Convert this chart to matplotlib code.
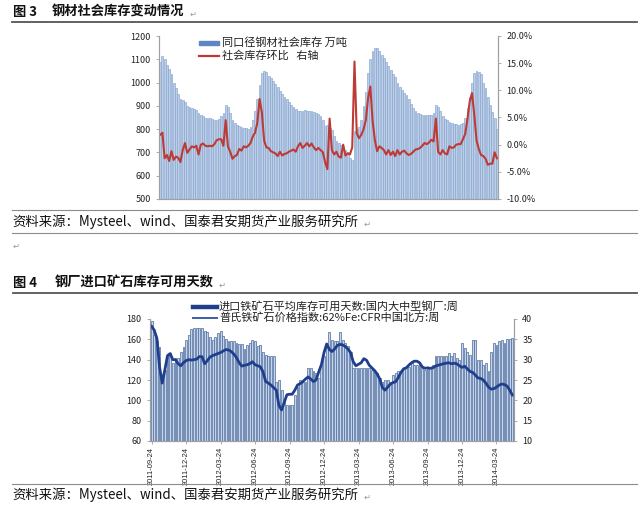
import matplotlib
matplotlib.use('Agg')
import matplotlib.pyplot as plt
from matplotlib.lines import Line2D
from matplotlib.patches import Rectangle
import numpy as np

plt.rcParams['font.family'] = ['Noto Sans CJK SC', 'DejaVu Sans']
plt.rcParams['axes.unicode_minus'] = False

# ---- chart 1 data: weekly steel social stock (万吨) and w/w change (%) ----
stock1 = [1090, 1114, 1100, 1075, 1060, 1035, 1000, 975, 950, 930,
          925, 915, 900, 895, 890, 888, 882, 870, 860, 855,
          850, 848, 846, 844, 840, 838, 845, 858, 870, 904,
          897, 870, 840, 826, 818, 812, 808, 805, 803, 802,
          810, 840, 880, 930, 990, 1040, 1050, 1046, 1030, 1018,
          1005, 995, 980, 965, 950, 940, 928, 918, 905, 895,
          885, 880, 876, 878, 882, 878, 876, 878, 874, 870,
          866, 855, 838, 812, 818, 805, 796, 770, 750, 740,
          733, 725, 712, 700, 678, 666, 790, 800, 808, 840,
          900, 960, 1040, 1100, 1137, 1148, 1150, 1135, 1120, 1106,
          1090, 1072, 1055, 1038, 1022, 1000, 980, 968, 955, 945,
          928, 908, 892, 878, 870, 865, 861, 860, 860, 861,
          862, 868, 904, 895, 880, 855, 845, 838, 832, 826,
          822, 820, 818, 820, 826, 850, 890, 940, 1000, 1042,
          1050, 1045, 1035, 1000, 975, 940, 905, 875, 848, 800]
mom1 = [1.8, 2.2, -2.5, -1.9, -3.0, -1.2, -2.8, -2.2, -2.4, -3.2,
        -1.0, 0.3, -1.5, -0.9, -0.3, -0.5, -0.2, -1.8, 0.0, 0.2,
        -0.2, -0.3, -0.2, -0.3, 0.1, 0.8, 1.0, 1.0, -0.2, 4.5,
        -0.3, -1.3, -2.6, -2.1, -1.9, -0.8, -1.1, -0.3, -0.5, -0.2,
        0.3, 1.5, 2.2, 4.0, 8.4, 6.0, 0.8, -0.5, -0.6, -1.2,
        -1.4, -1.6, -2.1, -1.3, -2.0, -1.7, -1.6, -1.3, -1.1, -0.9,
        -1.3, -0.3, 0.3, -0.6, -0.2, 0.3, -0.3, 0.2, -0.5, -1.0,
        -0.6, -1.0, -1.4, -3.2, -4.5, 4.8, -1.0, -1.8, -1.3, -2.2,
        -2.4, 0.0, -2.0, -1.6, -1.8, -0.5, 15.3, 2.1, 1.2, 1.8,
        2.8, 4.5, 8.5, 10.7, 4.4, 0.9, -1.2, -0.3, -0.6, -1.0,
        -1.8, -1.0, -1.9, -1.3, -2.1, -1.0, -1.8, -1.3, -1.1, -1.6,
        -1.9, -1.7, -1.3, -0.9, -0.8, -0.6, -0.2, 0.3, 0.1, 0.4,
        0.9, 0.6, 4.8, -1.3, -1.8, -1.0, -1.6, -1.8, -0.3, -0.6,
        -0.5, 0.0, 0.1, 0.1, 1.0, 2.0, 4.8, 8.0, 9.5, 5.5,
        0.8, -0.8, -1.9, -2.1, -2.6, -3.7, -3.5, -3.5, -1.4, -2.5]

# ---- chart 2 data: weekly iron ore price index and stock days ----
price2 = [173, 169, 161, 133, 117, 130, 144, 146, 140, 140,
          136, 134, 137, 139, 140, 139.6, 140, 140.5, 143, 143,
          136, 139, 142.5, 144, 145, 146, 147, 148.5, 150, 149.5,
          148, 145.5, 142, 137, 133.7, 134.5, 135, 136, 138, 135,
          134, 133, 128, 118.5, 117, 115, 112.5, 110, 95, 90.5,
          98, 105.5, 106, 106, 110, 115, 116.5, 118.3, 121, 123,
          121, 118.5, 120, 128, 135, 147, 155.5, 150, 148, 150.5,
          154, 155, 154.5, 153, 150.5, 147, 138, 134, 135.5, 137,
          141, 139.5, 134.7, 132, 129.5, 126, 121, 112.5, 110, 113,
          116, 117.5, 118.3, 122.5, 127.5, 131, 132, 134.7, 137, 138.5,
          138.5, 137, 133, 131.5, 132, 131.5, 132, 133.7, 134.5, 135.3,
          136, 136.5, 137, 136, 136.5, 136, 134, 132.4, 133.5, 131,
          128.5, 127.5, 125, 122, 121.6, 120, 117, 113, 111, 111.5,
          113, 115, 116, 115.5, 114, 110, 105]
days2 = [39.5, 36, 34.6, 33, 26, 27.5, 31.2, 31.7, 29.2, 30.4,
         30.4, 32, 33, 34.9, 36.1, 37.5, 37.8, 37.8, 37.8, 37.8,
         37.1, 36.9, 35.6, 34.9, 35.5, 36.6, 37, 35.8, 35, 34.7,
         34.7, 34.7, 34.1, 33.9, 33.9, 32.6, 33.6, 34.1, 34.9, 34.6,
         33.3, 33.6, 32, 31.2, 31, 31, 31, 24.6, 25, 22.6,
         20.1, 18.9, 18.9, 18.9, 21.2, 23.3, 25, 24.6, 24.6, 27.9,
         27.9, 27.1, 26.8, 25.5, 28.7, 31, 33.7, 36.9, 34.9, 34.7,
         34.7, 36.9, 34.9, 34.1, 33.3, 31.8, 27.9, 27.9, 27.9, 27.9,
         27.9, 27.9, 27.9, 27.5, 27.1, 26.7, 25.5, 24.6, 25, 25,
         24.6, 26.2, 26.7, 27.1, 27.1, 27.9, 27.9, 28.3, 29.2, 28.8,
         28.8, 28.8, 27.9, 27.5, 27.9, 27.9, 28.8, 30.8, 30.8, 31,
         30.8, 30.8, 31.6, 30.8, 31.6, 30.4, 30, 34.1, 32.9, 32,
         31.2, 34.9, 34.9, 30, 30, 28.8, 29.2, 27.1, 32, 34.1,
         33.7, 34.6, 34.9, 34.1, 35.1, 35.1, 35.3]
date_labels = ['2011-09-24', '2011-12-24', '2012-03-24', '2012-06-24',
               '2012-09-24', '2012-12-24', '2013-03-24', '2013-06-24',
               '2013-09-24', '2013-12-24', '2014-03-24']

W, H = 640, 507
fx = lambda x: x / W
fy = lambda y: 1 - y / H

fig = plt.figure(figsize=(6.4, 5.07), dpi=100)
axis_grey = '#a0a0a0'
txt = '#222222'


def hline(y, x0=12, x1=637, color='#8c8c8c', lw=0.8):
    fig.add_artist(Line2D([fx(x0), fx(x1)], [fy(y), fy(y)], color=color, lw=lw,
                          transform=fig.transFigure))


def style(ax):
    ax.spines['top'].set_visible(False)
    for s in ['left', 'right', 'bottom']:
        ax.spines[s].set_color(axis_grey)
        ax.spines[s].set_linewidth(0.8)
    ax.tick_params(axis='y', labelsize=6.5, colors=axis_grey, labelcolor=txt,
                   length=2.5, width=0.6)


# titles and rules
fig.text(fx(13), fy(12), '图 3', fontsize=9.5, fontweight='bold', va='center', color='#111')
fig.text(fx(52), fy(12), '钢材社会库存变动情况', fontsize=9.5, fontweight='bold',
         va='center', color='#111')
fig.text(fx(190), fy(14), '↵', fontsize=6, va='center', color='#999')
hline(22, color='#555555', lw=1.3)

fig.text(fx(13), fy(283), '图 4', fontsize=9.5, fontweight='bold', va='center', color='#111')
fig.text(fx(55), fy(283), '钢厂进口矿石库存可用天数', fontsize=9.5, fontweight='bold',
         va='center', color='#111')
fig.text(fx(219), fy(285), '↵', fontsize=6, va='center', color='#999')
hline(293, x0=13, color='#555555', lw=1.3)

src = '资料来源：Mysteel、wind、国泰君安期货产业服务研究所'
hline(210)
fig.text(fx(12), fy(222), src, fontsize=9.6, va='center', color='#111')
fig.text(fx(364), fy(224), '↵', fontsize=6, va='center', color='#999')
hline(233)
fig.text(fx(13), fy(246), '↵', fontsize=6, va='center', color='#999')

hline(484)
fig.text(fx(12), fy(495), src, fontsize=9.6, va='center', color='#111')
fig.text(fx(364), fy(497), '↵', fontsize=6, va='center', color='#999')

# ---- chart 1 ----
ax1 = fig.add_axes([fx(159), fy(199), (498 - 159) / W, (199 - 36) / H])
x1 = np.arange(len(stock1))
ax1.bar(x1, stock1, width=0.8, color='#bccfe7', edgecolor='#86a4cf', linewidth=0.45)
ax1.set_xlim(-0.5, len(stock1) - 0.5)
ax1.set_ylim(500, 1200)
ax1.set_yticks(range(500, 1201, 100))
ax1.set_xticks([])
style(ax1)
ax1r = ax1.twinx()
ax1r.plot(x1, mom1, color='#be3a36', lw=1.5)
ax1r.set_ylim(-10, 20)
ax1r.set_yticks(range(-10, 21, 5))
ax1r.set_yticklabels(['%.1f%%' % v for v in range(-10, 21, 5)])
style(ax1r)

# legend chart 1
fig.add_artist(Rectangle((fx(199), fy(45)), fx(20), 4 / H, color='#5f86c0',
                         transform=fig.transFigure))
fig.text(fx(222), fy(43), '同口径钢材社会库存 万吨', fontsize=8, va='center', color=txt)
fig.add_artist(Line2D([fx(199), fx(219)], [fy(56), fy(56)], color='#be3a36', lw=1.6,
                      transform=fig.transFigure))
fig.text(fx(222), fy(56), '社会库存环比   右轴', fontsize=8, va='center', color=txt)

# ---- chart 2 ----
ax2 = fig.add_axes([fx(150), fy(441), (514 - 150) / W, (441 - 319) / H])
x2 = np.arange(len(days2))
ax2.bar(x2, days2, width=0.7, color='#c3d4eb', edgecolor='#4d6a9b', linewidth=0.5)
ax2.set_xlim(-0.6, len(days2) - 0.4)
ax2.set_ylim(10, 40)
ax2.set_yticks(range(10, 41, 5))
style(ax2)
ax2.set_xticks(range(0, 131, 13))
ax2.set_xticklabels(date_labels, rotation=90, fontsize=5.4,
                    family=['Liberation Sans', 'DejaVu Sans'], color=txt)
ax2.tick_params(axis='x', length=2, width=0.6, colors=axis_grey, labelcolor=txt, pad=2)
ax2l = ax2.twinx()
ax2l.plot(x2, price2, color='#1f3f8c', lw=2.0, solid_capstyle='round')
ax2l.set_ylim(60, 180)
ax2l.set_yticks(range(60, 181, 20))
style(ax2l)
# bars' axis (days) goes to the right, price axis to the left
ax2.yaxis.tick_right()
ax2l.yaxis.tick_left()

# legend chart 2
fig.add_artist(Line2D([fx(193), fx(217)], [fy(306.5), fy(306.5)], color='#1f3f8c', lw=3.2,
                      transform=fig.transFigure))
fig.text(fx(219), fy(306.5), '进口铁矿石平均库存可用天数:国内大中型钢厂:周', fontsize=8,
         va='center', color=txt)
fig.add_artist(Line2D([fx(193), fx(217)], [fy(317.5), fy(317.5)], color='#3d5fa8', lw=1.4,
                      transform=fig.transFigure))
fig.text(fx(219), fy(317.5), '普氏铁矿石价格指数:62%Fe:CFR中国北方:周', fontsize=8,
         va='center', color=txt)

fig.savefig('out.png', dpi=100)
